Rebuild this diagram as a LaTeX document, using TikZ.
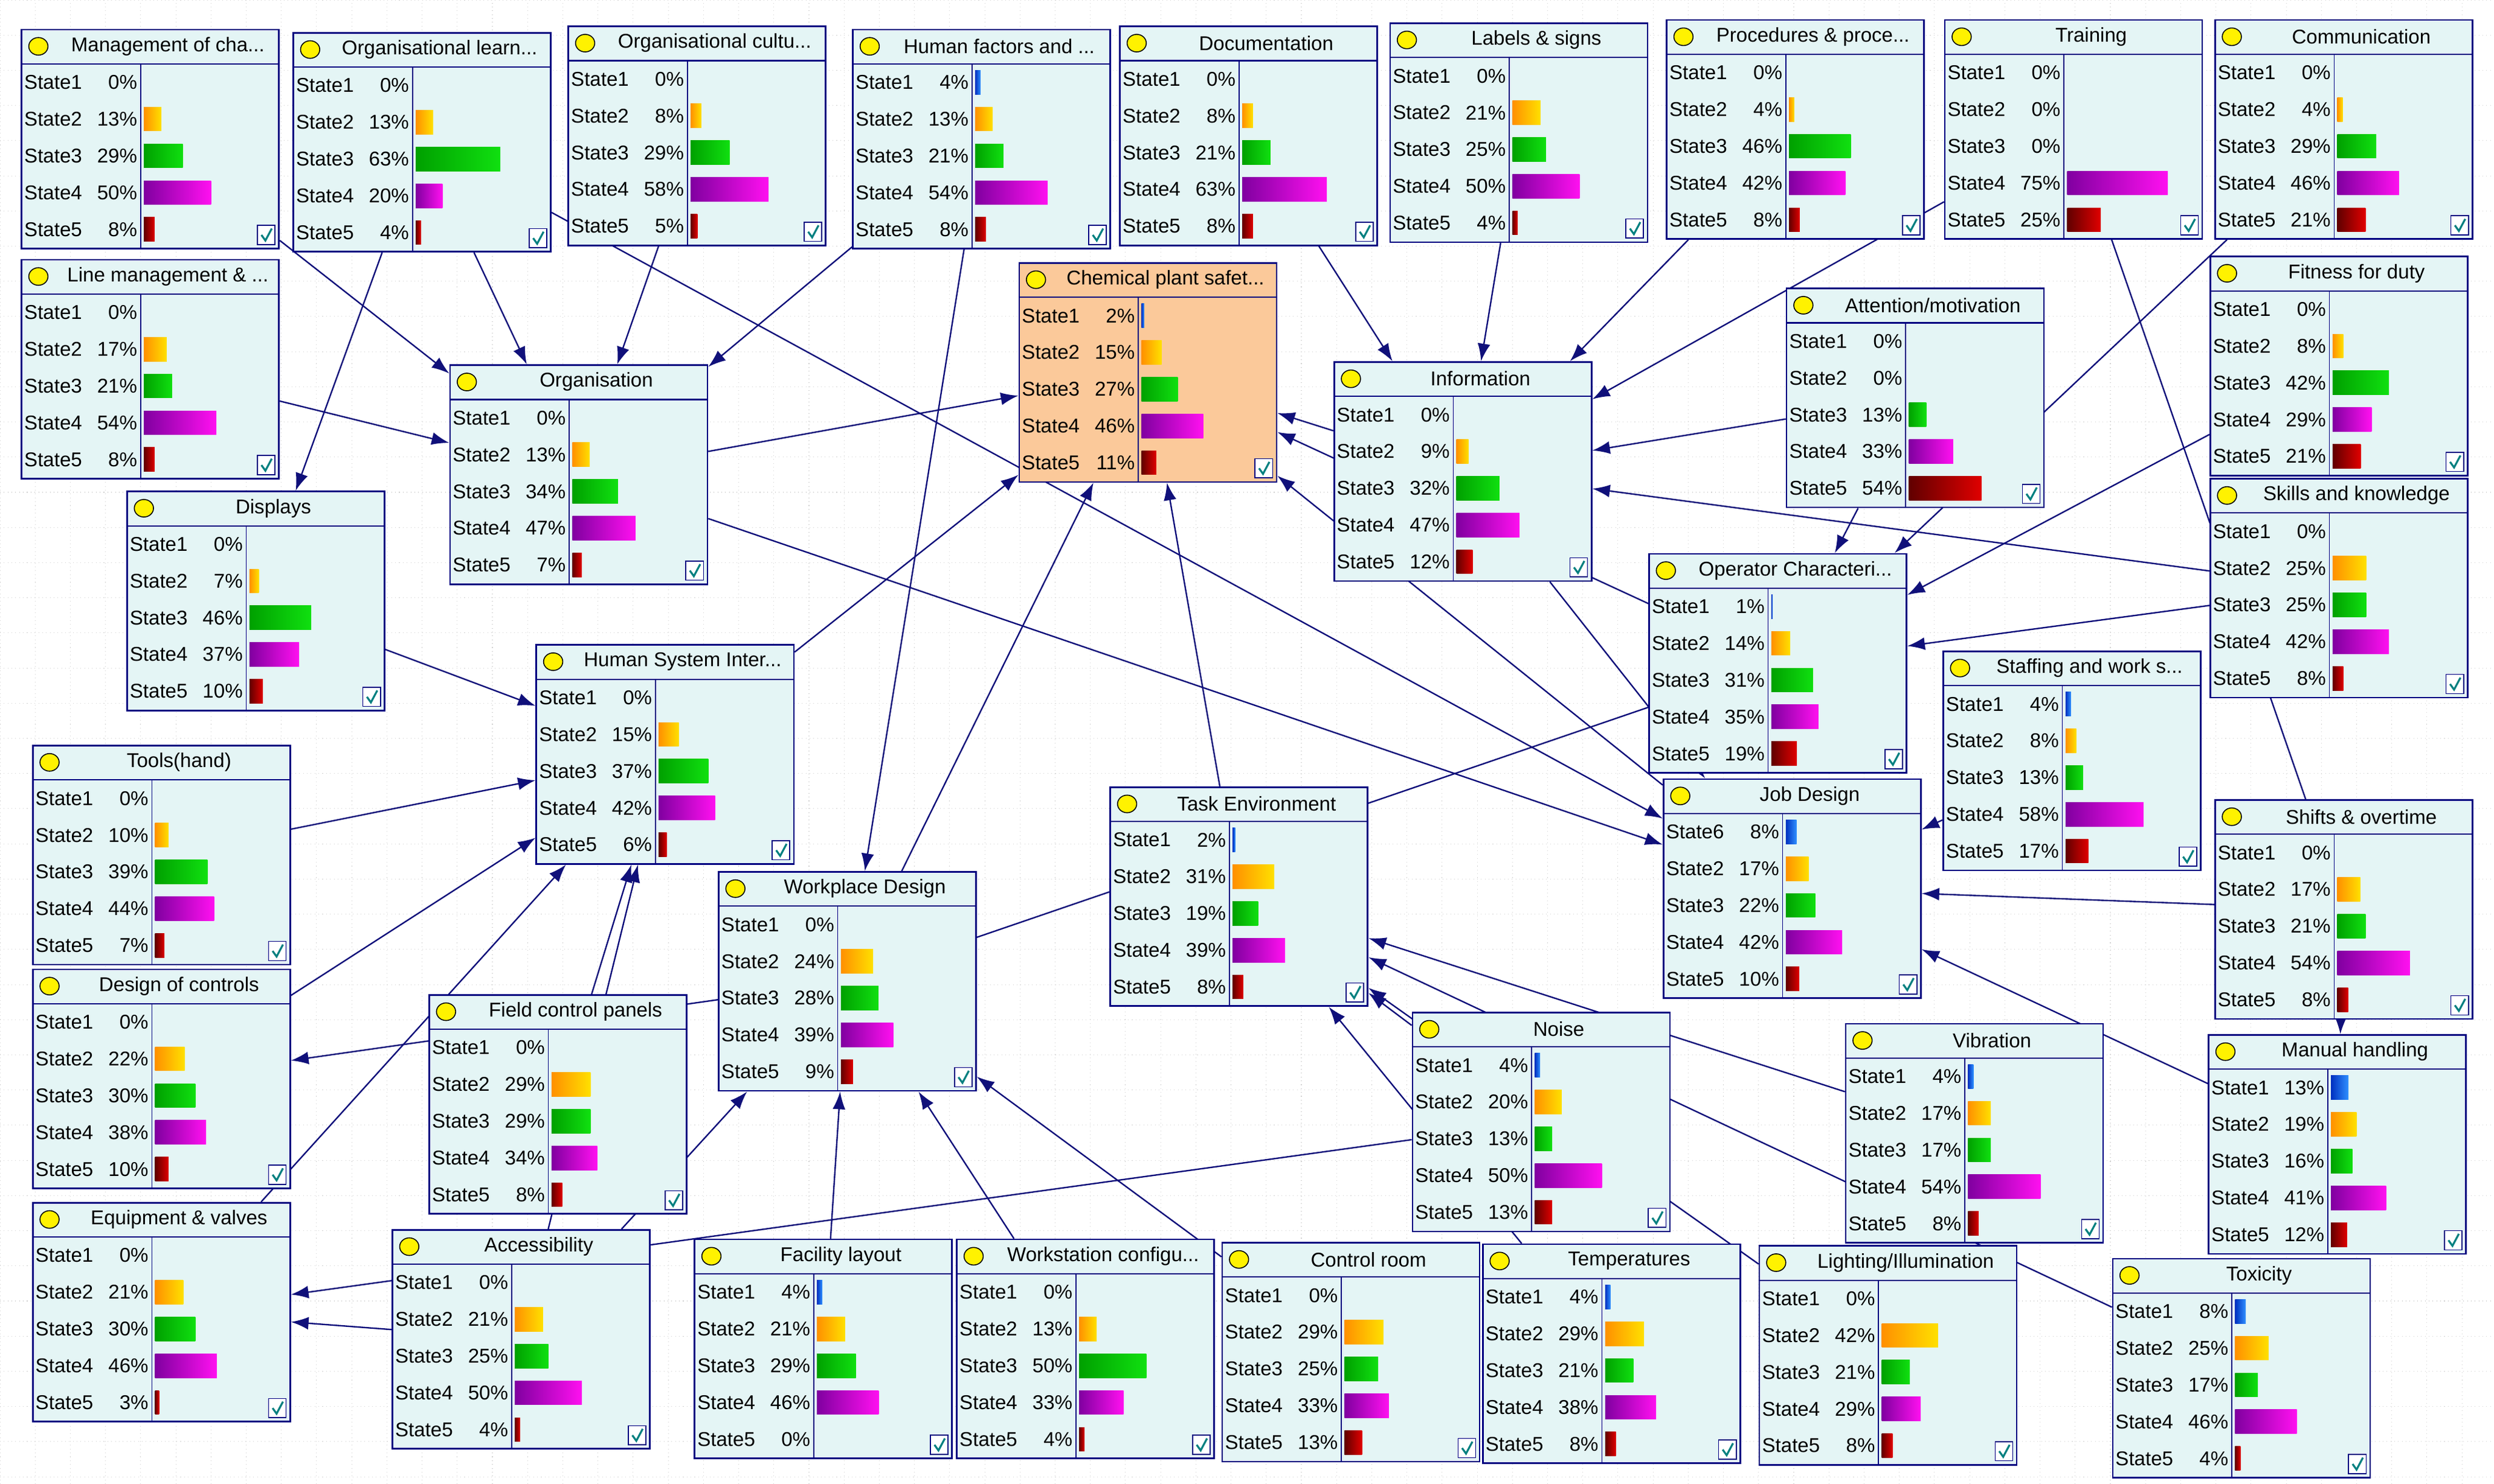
\documentclass[tikz,border=0pt]{standalone}
\usepackage{fontspec}
\setmainfont{Liberation Sans}
\usetikzlibrary{arrows.meta}
\definecolor{boxline}{HTML}{000080}
\definecolor{boxfill}{HTML}{E4F5F5}
\definecolor{chemfill}{HTML}{FBC99A}
\definecolor{edgeblue}{HTML}{10107A}
\definecolor{barLa}{HTML}{0030C0}\definecolor{barRa}{HTML}{3090FF}
\definecolor{barLb}{HTML}{FF9000}\definecolor{barRb}{HTML}{FFE000}
\definecolor{barLc}{HTML}{00A000}\definecolor{barRc}{HTML}{10E010}
\definecolor{barLd}{HTML}{8000A0}\definecolor{barRd}{HTML}{FF10F0}
\definecolor{barLe}{HTML}{600000}\definecolor{barRe}{HTML}{E00000}
\pgfdeclarelayer{grid}
\pgfdeclarelayer{background}
\pgfsetlayers{grid,background,main}

\tikzset{
  netbox/.style={draw=boxline,line width=1pt,rectangle,anchor=north west,
    minimum width=161pt,minimum height=137pt,inner sep=0pt},
  conn/.style={draw=edgeblue,line width=0.9pt,-{Latex[length=11pt,width=8pt]}},
  plain/.style={draw=edgeblue,line width=0.9pt}
}
\def\firststate{State1}
\def\boxcol{boxfill}
% one network node: name, left, top, title, percentages
\newcommand\netnode[5]{%
\begin{scope}[shift={(#2,#3)}]
\node[netbox,fill=\boxcol] (#1) at (0,0) {};
\draw[boxline,line width=0.8pt] (0,22) -- (161,22);
\draw[boxline,line width=0.6pt] (75,22) -- (75,137);
\draw[black,fill=yellow,line width=0.6pt] (11,11) ellipse (6pt and 5.5pt);
\node[font=\fontsize{12.5}{12.5}\selectfont] at (92,11) {#4};
\foreach \p [count=\i] in {#5} {
  \node[anchor=west,font=\fontsize{12.5}{12.5}\selectfont,inner sep=0pt] at (2,{10.5+23*\i})
    {\ifnum\i=1 \firststate\else State\i\fi};
  \node[anchor=east,font=\fontsize{12.5}{12.5}\selectfont,inner sep=0pt] at (73,{10.5+23*\i}) {\p\%};
  \ifnum\p>0
    \shade[left color=barL\ifcase\i\or a\or b\or c\or d\or e\fi,
           right color=barR\ifcase\i\or a\or b\or c\or d\or e\fi]
      (77,{3+23*\i}) rectangle ({77+\p*0.84},{18+23*\i});
  \fi
}
\draw[boxline,fill=white,line width=0.6pt] (148,123) rectangle (159,135);
\draw[teal,line width=1.2pt] (150.5,129) -- (153,132.5) -- (157,125);
\end{scope}}

\begin{document}
\begin{tikzpicture}[x=1pt,y=-1pt]
\useasboundingbox (0,0) rectangle (1560,928.5);
\begin{pgfonlayer}{grid}
\fill[white] (0,0) rectangle (1560,928.5);
\draw[gray!35,dotted,step=22pt] (0,0) grid (1560,928.5);
\end{pgfonlayer}

\netnode{mgmt}{13}{18}{Management of cha...}{0,13,29,50,8}
\netnode{orglearn}{183}{20}{Organisational learn...}{0,13,63,20,4}
\netnode{orgcult}{355}{16}{Organisational cultu...}{0,8,29,58,5}
\netnode{humfac}{533}{18}{Human factors and ...}{4,13,21,54,8}
\netnode{docu}{700}{16}{Documentation}{0,8,21,63,8}
\netnode{labels}{869}{14}{Labels \& signs}{0,21,25,50,4}
\netnode{proc}{1042}{12}{Procedures \& proce...}{0,4,46,42,8}
\netnode{training}{1216}{12}{Training}{0,0,0,75,25}
\netnode{comm}{1385}{12}{Communication}{0,4,29,46,21}
\netnode{linemgmt}{13}{162}{Line management \& ...}{0,17,21,54,8}
\def\boxcol{chemfill}
\netnode{chem}{637}{164}{Chemical plant safet...}{2,15,27,46,11}
\def\boxcol{boxfill}
\netnode{attn}{1117}{180}{Attention/motivation}{0,0,13,33,54}
\netnode{fitness}{1382}{160}{Fitness for duty}{0,8,42,29,21}
\netnode{org}{281}{228}{Organisation}{0,13,34,47,7}
\netnode{info}{834}{226}{Information}{0,9,32,47,12}
\netnode{displays}{79}{307}{Displays}{0,7,46,37,10}
\netnode{skills}{1382}{299}{Skills and knowledge}{0,25,25,42,8}
\netnode{operchar}{1031}{346}{Operator Characteri...}{1,14,31,35,19}
\netnode{hsi}{335}{403}{Human System Inter...}{0,15,37,42,6}
\netnode{staffing}{1215}{407}{Staffing and work s...}{4,8,13,58,17}
\netnode{tools}{20}{466}{Tools(hand)}{0,10,39,44,7}
\netnode{taskenv}{694}{492}{Task Environment}{2,31,19,39,8}
\def\firststate{State6}
\netnode{jobdes}{1040}{487}{Job Design}{8,17,22,42,10}
\def\firststate{State1}
\netnode{shifts}{1385}{500}{Shifts \& overtime}{0,17,21,54,8}
\netnode{workpl}{449}{545}{Workplace Design}{0,24,28,39,9}
\netnode{design}{20}{606}{Design of controls}{0,22,30,38,10}
\netnode{field}{268}{622}{Field control panels}{0,29,29,34,8}
\netnode{noise}{883}{633}{Noise}{4,20,13,50,13}
\netnode{vib}{1154}{640}{Vibration}{4,17,17,54,8}
\netnode{manual}{1381}{647}{Manual handling}{13,19,16,41,12}
\netnode{equip}{20}{752}{Equipment \& valves}{0,21,30,46,3}
\netnode{access}{245}{769}{Accessibility}{0,21,25,50,4}
\netnode{facility}{434}{775}{Facility layout}{4,21,29,46,0}
\netnode{workst}{598}{775}{Workstation configu...}{0,13,50,33,4}
\netnode{control}{764}{777}{Control room}{0,29,25,33,13}
\netnode{temp}{927}{778}{Temperatures}{4,29,21,38,8}
\netnode{light}{1100}{779}{Lighting/Illumination}{0,42,21,29,8}
\netnode{tox}{1321}{787}{Toxicity}{8,25,17,46,4}

\begin{pgfonlayer}{background}
\draw[conn] (mgmt) -- (org);
\draw[conn] (orglearn) -- (org);
\draw[conn] (orgcult) -- (org);
\draw[conn] (humfac) -- (org);
\draw[conn] (linemgmt) -- (org);
\draw[conn] (orglearn) -- (displays);
\draw[conn] (orglearn) -- (jobdes);
\draw[conn] (org) -- (chem);
\draw[conn] (org) -- (jobdes);
\draw[conn] (humfac) -- (workpl);
\draw[conn] (docu) -- (info);
\draw[conn] (labels) -- (info);
\draw[conn] (proc) -- (info);
\draw[conn] (training) -- (info);
\draw[conn] (attn) -- (info);
\draw[conn] (comm) -- (operchar);
\draw[conn] (attn) -- (operchar);
\draw[conn] (fitness) -- (operchar);
\draw[conn] (skills) -- (info);
\draw[conn] (skills) -- (operchar);
\draw[plain] (training) -- (shifts);
\draw[conn] (info) -- (chem);
\draw[conn] (operchar) -- (chem);
\draw[conn] (jobdes) -- (chem);
\draw[conn] (info) -- (jobdes);
\draw[conn] (taskenv) -- (chem);
\draw[conn] (hsi) -- (chem);
\draw[conn] (workpl) -- (chem);
\draw[conn] (displays) -- (hsi);
\draw[conn] (tools) -- (hsi);
\draw[conn] (design) -- (hsi);
\draw[conn] (equip) -- (hsi);
\draw[conn] (field) -- (hsi);
\draw[conn] (access) -- (hsi);
\draw[conn] (workpl) -- (design);
\draw[conn] (access) -- (equip);
\draw[conn] (access) -- (workpl);
\draw[conn] (facility) -- (workpl);
\draw[conn] (workst) -- (workpl);
\draw[conn] (control) -- (workpl);
\draw[conn] (noise) -- (equip);
\draw[conn] (noise) -- (taskenv);
\draw[conn] (vib) -- (taskenv);
\draw[conn] (light) -- (taskenv);
\draw[conn] (tox) -- (taskenv);
\draw[conn] (temp) -- (taskenv);
\draw[plain] (workpl) -- (operchar);
\draw[conn] (staffing) -- (jobdes);
\draw[conn] (shifts) -- (jobdes);
\draw[conn] (manual) -- (jobdes);
\draw[conn] (shifts) -- (manual);
\end{pgfonlayer}
\end{tikzpicture}
\end{document}
